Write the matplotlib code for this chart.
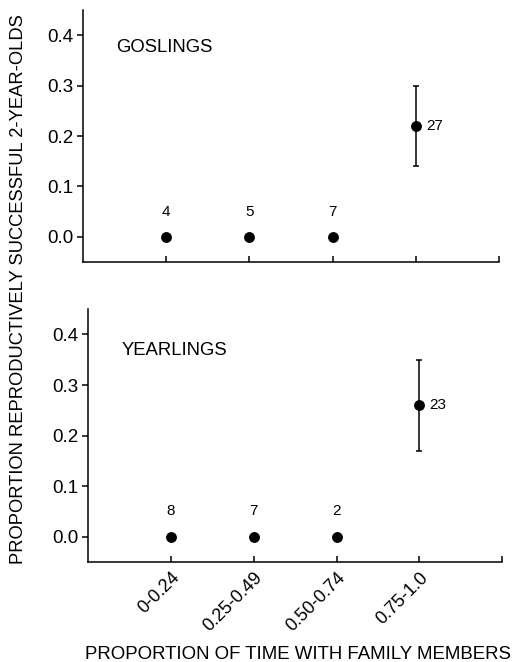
import numpy as np
import matplotlib
matplotlib.use('Agg')
import matplotlib.pyplot as plt

plt.rcParams['font.family'] = ['Liberation Sans', 'DejaVu Sans']

# categories on the x axis
categories = ['0-0.24', '0.25-0.49', '0.50-0.74', '0.75-1.0']

# goslings panel
gos_vals = [0.0, 0.0, 0.0, 0.22]
gos_low = [0.0, 0.0, 0.0, 0.14]
gos_high = [0.0, 0.0, 0.0, 0.30]
gos_n = ['4', '5', '7', '27']

# yearlings panel
yr_vals = [0.0, 0.0, 0.0, 0.26]
yr_low = [0.0, 0.0, 0.0, 0.17]
yr_high = [0.0, 0.0, 0.0, 0.35]
yr_n = ['8', '7', '2', '23']

yticks = [0.0, 0.1, 0.2, 0.3, 0.4]


def panel(ax, vals, low, high, ns, title, title_y, show_labels):
    x = np.arange(1, len(vals) + 1)
    vals = np.array(vals)
    err = [vals - np.array(low), np.array(high) - vals]
    # only the last point has an error bar
    ax.errorbar(x[-1:], vals[-1:], yerr=[err[0][-1:], err[1][-1:]], fmt='none',
                ecolor='black', elinewidth=1.1, capsize=2.5, capthick=1.1)
    ax.plot(x, vals, 'o', color='black', markersize=6.8)
    for xi, v, n in zip(x, vals, ns):
        if v == 0:
            ax.text(xi, v + 0.05, n, ha='center', va='center', fontsize=11)
        else:
            ax.text(xi + 0.12, v, n, ha='left', va='center', fontsize=11)
    ax.text(0.4, title_y, title, ha='left', va='center', fontsize=13.3)

    ax.set_xlim(0, 5)
    ax.set_ylim(-0.05, 0.45)
    ax.set_yticks(yticks)
    ax.set_yticklabels(['%.1f' % t for t in yticks], fontsize=13.5)
    ax.set_xticks([1, 2, 3, 4, 5])
    if show_labels:
        ax.set_xticklabels(categories + [''], rotation=45, ha='right',
                           rotation_mode='anchor', fontsize=13)
    else:
        ax.set_xticklabels([])
    ax.spines['top'].set_visible(False)
    ax.spines['right'].set_visible(False)
    for s in ['left', 'bottom']:
        ax.spines[s].set_linewidth(1.1)
    ax.tick_params(axis='x', direction='in', length=4, width=1.1, pad=5)
    ax.tick_params(axis='y', direction='out', length=4, width=1.1, pad=3)


fig = plt.figure(figsize=(5.16, 6.62), dpi=100)
ax1 = fig.add_axes([0.161, 0.604, 0.806, 0.381])
ax2 = fig.add_axes([0.171, 0.151, 0.802, 0.382])

panel(ax1, gos_vals, gos_low, gos_high, gos_n, 'GOSLINGS', 0.376, False)
panel(ax2, yr_vals, yr_low, yr_high, yr_n, 'YEARLINGS', 0.368, True)

fig.text(0.035, 0.563, 'PROPORTION REPRODUCTIVELY SUCCESSFUL 2-YEAR-OLDS',
         rotation=90, ha='center', va='center', fontsize=13.2)
fig.text(0.578, 0.011, 'PROPORTION OF TIME WITH FAMILY MEMBERS',
         ha='center', va='center', fontsize=13.4)

fig.savefig('out.png', dpi=100)
